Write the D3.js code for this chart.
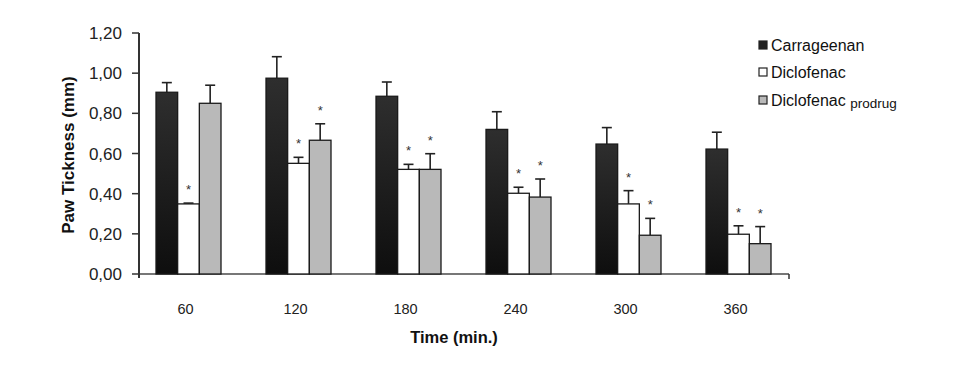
<!DOCTYPE html>
<html><head><meta charset="utf-8">
<script src="https://cdn.jsdelivr.net/npm/d3@7"></script>
<style>body{margin:0;background:#fff}svg{display:block}</style>
</head><body>
<svg id="c" width="966" height="370"></svg>
<script>
const categories = ["60","120","180","240","300","360"];
const seriesNames = ["Carrageenan","Diclofenac","Diclofenac prodrug"];
const carrageenan    = [0.905,0.975,0.885,0.72,0.647,0.622];
const carrageenanErr = [0.048,0.107,0.071,0.088,0.082,0.084];
const diclofenac     = [0.349,0.551,0.521,0.402,0.349,0.198];
const diclofenacErr  = [0.004,0.030,0.025,0.030,0.066,0.042];
const prodrug        = [0.85,0.666,0.521,0.383,0.193,0.151];
const prodrugErr     = [0.090,0.082,0.078,0.090,0.084,0.085];
const dicloSig       = [true,true,true,true,true,true];
const prodrugSig     = [false,true,true,true,true,true];
const yTicks = [0,0.2,0.4,0.6,0.8,1.0,1.2];

const svg = d3.select("#c");
const defs = svg.append("defs");
const grad = defs.append("linearGradient").attr("id","blk").attr("x1",0).attr("y1",0).attr("x2",0).attr("y2",1);
grad.append("stop").attr("offset","0%").attr("stop-color","#2e2e2e");
grad.append("stop").attr("offset","100%").attr("stop-color","#0e0e0e");

const fills = ["url(#blk)","#ffffff","#b9b9b9"];
const legendFills = ["#222","#fff","#b9b9b9"];
const vals = [carrageenan, diclofenac, prodrug];
const errs = [carrageenanErr, diclofenacErr, prodrugErr];

const y = d3.scaleLinear().domain([0,1.2]).range([274,33]);
const x = d3.scaleBand().domain(categories).range([133.5,793.5]).paddingInner(0.409).paddingOuter(0.2045);
const xs = d3.scaleBand().domain([0,1,2]).range([0,x.bandwidth()]).padding(0);

// x axis line
svg.append("line").attr("x1",139).attr("x2",789).attr("y1",y(0)).attr("y2",y(0)).attr("stroke","#777").attr("stroke-width",2);
svg.append("line").attr("x1",789).attr("x2",789).attr("y1",y(0)).attr("y2",y(0)+5).attr("stroke","#333").attr("stroke-width",1.5);

// bars
categories.forEach((c,i)=>{
  const g = svg.append("g").attr("transform",`translate(${x(c)},0)`);
  [0,1,2].forEach(s=>{
    const v = vals[s][i], e = errs[s][i];
    const bx = xs(s), bw = xs.bandwidth();
    const cx = bx + bw/2;
    // error bar
    g.append("line").attr("x1",cx).attr("x2",cx).attr("y1",y(v)).attr("y2",y(v+e)).attr("stroke","#222").attr("stroke-width",1.6);
    g.append("line").attr("x1",cx-5).attr("x2",cx+5).attr("y1",y(v+e)).attr("y2",y(v+e)).attr("stroke","#222").attr("stroke-width",1.6);
    g.append("rect").attr("x",bx).attr("y",y(v)).attr("width",bw).attr("height",y(0)-y(v))
      .attr("fill",fills[s]).attr("stroke","#1a1a1a").attr("stroke-width",1.3);
    const sig = s===1 ? dicloSig[i] : s===2 ? prodrugSig[i] : false;
    if(sig){
      g.append("text").attr("x",cx).attr("y",y(v+e)-9).attr("text-anchor","middle")
        .attr("font-family","Liberation Sans, Arial, sans-serif").attr("font-size",13).attr("fill","#333").text("*");
    }
  });
});

// y axis
svg.append("line").attr("x1",139).attr("x2",139).attr("y1",y(1.2)).attr("y2",y(0)+4).attr("stroke","#333").attr("stroke-width",2);
const fmt = d => d.toFixed(2).replace(".",",");
yTicks.forEach(t=>{
  svg.append("line").attr("x1",132).attr("x2",139).attr("y1",y(t)).attr("y2",y(t)).attr("stroke","#333").attr("stroke-width",1.5);
  svg.append("text").attr("x",122).attr("y",y(t)).attr("dy","0.36em").attr("text-anchor","end")
    .attr("font-family","Liberation Sans, Arial, sans-serif").attr("font-size",17).attr("fill","#222").text(fmt(t));
});

// x labels
categories.forEach(c=>{
  svg.append("text").attr("x",x(c)+x.bandwidth()/2-3).attr("y",314).attr("text-anchor","middle")
    .attr("font-family","Liberation Sans, Arial, sans-serif").attr("font-size",14.5).attr("fill","#222").text(c);
});

// axis titles
svg.append("text").attr("x",454).attr("y",343).attr("text-anchor","middle")
  .attr("font-family","Liberation Sans, Arial, sans-serif").attr("font-weight","bold").attr("font-size",16.5).attr("fill","#111").text("Time (min.)");
svg.append("text").attr("transform","translate(74,155) rotate(-90)").attr("text-anchor","middle")
  .attr("font-family","Liberation Sans, Arial, sans-serif").attr("font-weight","bold").attr("font-size",17).attr("fill","#111").text("Paw Tickness (mm)");

// legend
const ly = [45,72,100];
seriesNames.forEach((n,i)=>{
  svg.append("rect").attr("x",759).attr("y",ly[i]-4).attr("width",8).attr("height",8)
    .attr("fill",legendFills[i]).attr("stroke","#222").attr("stroke-width",1.2);
  const t = svg.append("text").attr("x",771).attr("y",ly[i]+5.5)
    .attr("font-family","Liberation Sans, Arial, sans-serif").attr("font-size",16).attr("fill","#111");
  if(i===2){
    t.append("tspan").text("Diclofenac ");
    t.append("tspan").attr("font-size",13.5).attr("dy",2).text("prodrug");
  } else t.text(n);
});
</script>
</body></html>
